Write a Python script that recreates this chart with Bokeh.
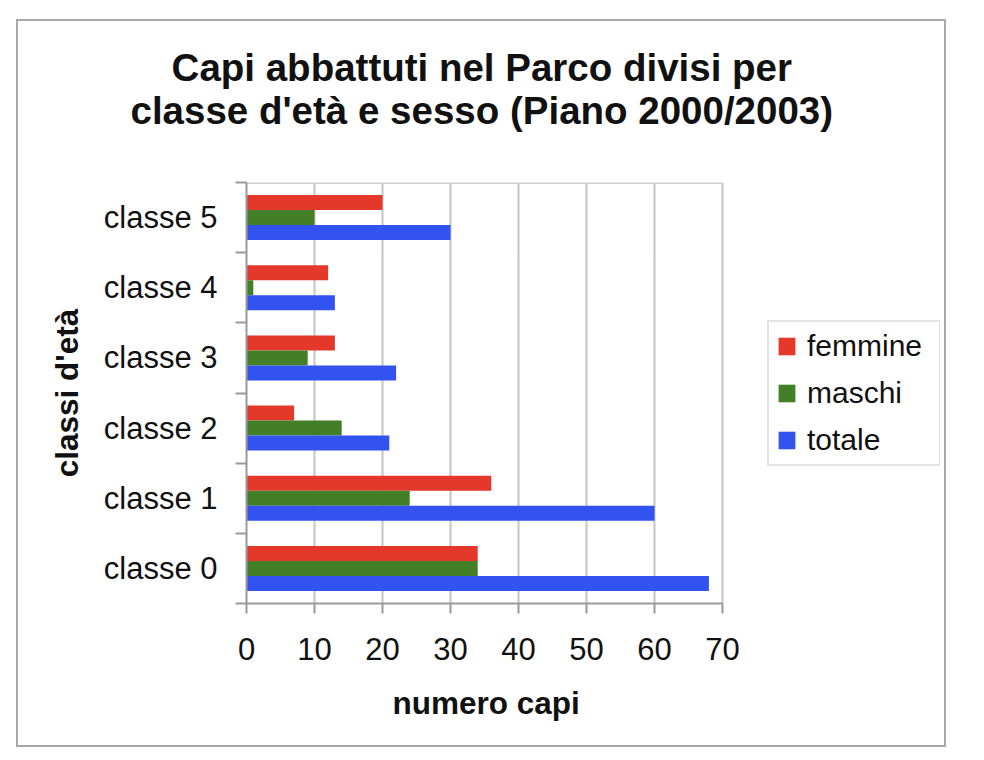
from bokeh.plotting import figure
from bokeh.models import (ColumnDataSource, FixedTicker, Range1d, Legend, LegendItem, Title)
from bokeh.transform import dodge
from bokeh.embed import file_html
from bokeh.resources import INLINE

# ---- data ----
categories = ["classe 0", "classe 1", "classe 2", "classe 3", "classe 4", "classe 5"]
femmine = [34, 36, 7, 13, 12, 20]
maschi = [34, 24, 14, 9, 1, 10]
totale = [68, 60, 21, 22, 13, 30]
series_names = ["femmine", "maschi", "totale"]
series_colors = ["#E4392A", "#437E28", "#3353F0"]
x_ticks = [0, 10, 20, 30, 40, 50, 60, 70]
title_lines = ["Capi abbattuti nel Parco divisi per", "classe d'età e sesso (Piano 2000/2003)"]
x_label = "numero capi"
y_label = "classi d'età"

FONT = "Liberation Sans"
TXT = "#111111"

pos = list(range(len(categories)))
source = ColumnDataSource(dict(y=pos, femmine=femmine, maschi=maschi, totale=totale))

# the frame is wider than the value axis so that the legend can sit inside it
FRAME_W = 694
AXIS_W = 476
x_end = x_ticks[-1] * FRAME_W / AXIS_W

p = figure(width=926, height=724, output_backend="svg", toolbar_location=None,
           x_range=Range1d(x_ticks[0], x_end),
           y_range=Range1d(-0.5, len(categories) - 0.5),
           min_border_left=228, min_border_right=926 - 228 - FRAME_W,
           min_border_top=161, min_border_bottom=142,
           background_fill_color="white", border_fill_color="white",
           margin=(21, 0, 0, 18),
           styles={"outline": "2px solid #a9a9a9"})
p.title.visible = False
p.outline_line_color = None

bar_h = 0.214
offsets = [bar_h, 0.0, -bar_h]
renderers = []
for name, col, off in zip(series_names, series_colors, offsets):
    r = p.hbar(y=dodge("y", off), left=0, right=name, height=bar_h, source=source,
               fill_color=col, line_color=None)
    renderers.append(r)

# top edge of the plot area (value axis extent only)
y_top = len(categories) - 0.5
p.segment(x0=[x_ticks[0]], x1=[x_ticks[-1]], y0=[y_top], y1=[y_top],
          line_color="#cfcfcf", line_width=3)

# grid
p.xgrid.ticker = FixedTicker(ticks=x_ticks)
p.xgrid.grid_line_color = "#c4c4c4"
p.xgrid.grid_line_width = 2
p.ygrid.visible = False

# x axis
xa = p.xaxis[0]
xa.ticker = FixedTicker(ticks=x_ticks)
xa.bounds = (x_ticks[0], x_ticks[-1])
xa.axis_line_color = "#999999"
xa.axis_line_width = 2
xa.major_tick_line_color = "#999999"
xa.major_tick_line_width = 2
xa.major_tick_out = 10
xa.major_tick_in = 0
xa.minor_tick_out = 0
xa.major_label_text_font = FONT
xa.major_label_text_font_size = "31px"
xa.major_label_text_color = TXT
xa.major_label_standoff = 24

# y axis: labels at band centres, ticks at band boundaries
ya = p.yaxis[0]
ya.ticker = FixedTicker(ticks=pos, minor_ticks=[i - 0.5 for i in range(len(categories) + 1)])
ya.major_label_overrides = {i: c for i, c in zip(pos, categories)}
ya.axis_line_color = "#999999"
ya.axis_line_width = 2
ya.major_tick_out = 0
ya.major_tick_in = 0
ya.minor_tick_out = 11
ya.minor_tick_in = 0
ya.minor_tick_line_color = "#999999"
ya.minor_tick_line_width = 2
ya.major_label_text_font = FONT
ya.major_label_text_font_size = "31px"
ya.major_label_text_color = TXT
ya.major_label_standoff = 18
ya.axis_label = y_label
ya.axis_label_text_font = FONT
ya.axis_label_text_font_size = "31.5px"
ya.axis_label_text_font_style = "bold"
ya.axis_label_text_color = TXT
ya.axis_label_standoff = 16

# legend
legend = Legend(items=[LegendItem(label=n, renderers=[r]) for n, r in zip(series_names, renderers)],
                location=(521, 137), orientation="vertical",
                label_text_font=FONT, label_text_font_size="30px", label_text_color=TXT,
                glyph_width=21, glyph_height=22, label_standoff=10, label_width=125,
                padding=7, spacing=13, border_line_color="#c8c8c8", border_line_width=2,
                background_fill_color="white", background_fill_alpha=1.0)
p.add_layout(legend)

has_text_align = "text_align" in Title.properties()

# two-line title (trailing blank line keeps it clear of the frame)
title = Title(text="\n".join(title_lines) + "\n", align="left", offset=-116,
              text_font=FONT, text_font_size="38.5px", text_font_style="bold",
              text_color=TXT, standoff=15)
if has_text_align:
    title.text_align = "center"
p.add_layout(title, "above")

# x axis title, centred under the value axis (not under the wider frame)
xtitle = Title(text=x_label, align="left", offset=146, vertical_align="top",
               text_font=FONT, text_font_size="31.5px", text_font_style="bold",
               text_color=TXT, standoff=44)
p.add_layout(xtitle, "below")

open("out.html", "w").write(file_html(p, INLINE))
